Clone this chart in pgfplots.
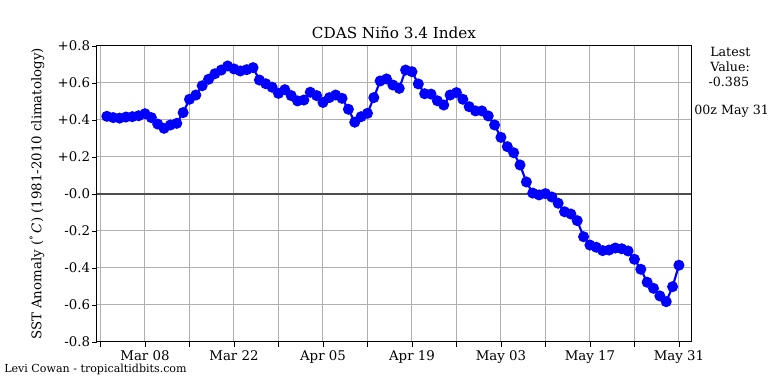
\documentclass[border=0pt]{standalone}
\usepackage{pgfplots}
\pgfplotsset{compat=1.18}
\usepackage{fontspec}
\setmainfont{DejaVu Serif}
\definecolor{gridgray}{HTML}{B0B0B0}
\definecolor{zerogray}{HTML}{4D4D4D}
\definecolor{lineblue}{RGB}{0,0,255}
\pgfplotstableread{
day val
1 0.420
2 0.413
3 0.410
4 0.416
5 0.418
6 0.423
7 0.434
8 0.413
9 0.378
10 0.355
11 0.373
12 0.382
13 0.440
14 0.512
15 0.535
16 0.585
17 0.620
18 0.650
19 0.670
20 0.692
21 0.676
22 0.665
23 0.672
24 0.683
25 0.616
26 0.596
27 0.577
28 0.544
29 0.564
30 0.532
31 0.503
32 0.508
33 0.550
34 0.532
35 0.495
36 0.521
37 0.535
38 0.517
39 0.458
40 0.388
41 0.418
42 0.436
43 0.521
44 0.611
45 0.622
46 0.589
47 0.571
48 0.670
49 0.661
50 0.595
51 0.542
52 0.540
53 0.504
54 0.481
55 0.535
56 0.548
57 0.512
58 0.472
59 0.449
60 0.449
61 0.422
62 0.373
63 0.306
64 0.256
65 0.223
66 0.157
67 0.065
68 0.005
69 -0.005
70 0.002
71 -0.016
72 -0.050
73 -0.096
74 -0.108
75 -0.144
76 -0.231
77 -0.276
78 -0.288
79 -0.306
80 -0.303
81 -0.292
82 -0.296
83 -0.308
84 -0.353
85 -0.407
86 -0.477
87 -0.510
88 -0.551
89 -0.582
90 -0.501
91 -0.385
}\ninoData
\begin{document}
\begin{tikzpicture}
\path[use as bounding box] (-72.75pt,-31.5pt) rectangle (503.25pt,256.5pt);
\begin{axis}[
  at={(0pt,0pt)}, anchor=south west,
  scale only axis, width=445.5pt, height=222pt,
  xmin=-0.55, xmax=92.9, ymin=-0.8, ymax=0.8,
  xtick={0,7,...,91},
  xticklabels={,Mar 08,,Mar 22,,Apr 05,,Apr 19,,May 03,,May 17,,May 31},
  ytick={-0.8,-0.6,-0.4,-0.2,0,0.2,0.4,0.6,0.8},
  yticklabels={-0.8,-0.6,-0.4,-0.2,-0.0,+0.2,+0.4,+0.6,+0.8},
  tick align=outside, xtick pos=lower, ytick pos=left,
  major tick length=3.5pt,
  tick style={black, line width=0.6pt},
  ticklabel style={font=\fontsize{10pt}{12pt}\selectfont},
  yticklabel style={inner sep=1.5pt},
  xticklabel style={inner sep=2.5pt},
  grid=major,
  major grid style={gridgray, line width=0.75pt},
  axis line style={black, line width=0.75pt},
  clip=false,
]
\addplot[zerogray, line width=1pt, forget plot] coordinates {(-0.55,0) (92.9,0)};
\addplot[lineblue, line width=1.6pt, mark=*, mark size=3.3pt, mark options={fill=lineblue, draw=lineblue}] table[x=day, y=val] {\ninoData};
\end{axis}
\node[font=\fontsize{11.4pt}{13pt}\selectfont] at (222.75pt,231.75pt) {CDAS Niño 3.4 Index};
\node[rotate=90, font=\fontsize{10pt}{12pt}\selectfont] at (-45pt,111pt) {SST Anomaly (\textsuperscript{°}\,\textit{C}) (1981-2010 climatology)};
\node[anchor=west, inner sep=0pt, font=\fontsize{9.5pt}{11pt}\selectfont] at (459.75pt,217.5pt) {Latest};
\node[anchor=west, inner sep=0pt, font=\fontsize{9.5pt}{11pt}\selectfont] at (459.75pt,206.25pt) {Value:};
\node[anchor=west, inner sep=0pt, font=\fontsize{9.5pt}{11pt}\selectfont] at (458.5pt,195pt) {-0.385};
\node[anchor=west, inner sep=0pt, font=\fontsize{9.5pt}{11pt}\selectfont] at (447.75pt,173.25pt) {00z May 31};
\node[anchor=west, inner sep=0pt, font=\fontsize{8.3pt}{10pt}\selectfont] at (-69.75pt,-20.25pt) {Levi Cowan - tropicaltidbits.com};
\end{tikzpicture}
\end{document}
